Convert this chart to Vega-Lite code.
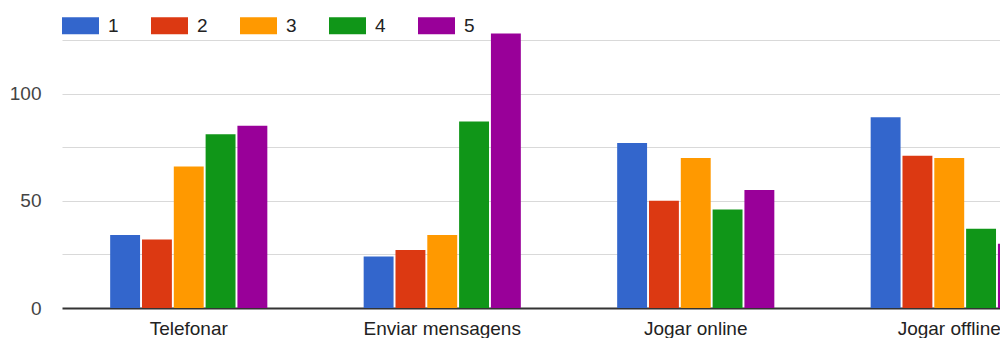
{
  "$schema": "https://vega.github.io/schema/vega-lite/v6.json",
  "autosize": {"type": "none"},
  "width": 938,
  "height": 268,
  "padding": {"left": 62, "top": 40, "right": 0, "bottom": 30},
  "background": "white",
  "config": {
    "view": {"stroke": null},
    "font": "Liberation Sans"
  },
  "data": {
    "values": [
      {"atividade": "Telefonar", "nota": "1", "n": 34},
      {"atividade": "Telefonar", "nota": "2", "n": 32},
      {"atividade": "Telefonar", "nota": "3", "n": 66},
      {"atividade": "Telefonar", "nota": "4", "n": 81},
      {"atividade": "Telefonar", "nota": "5", "n": 85},
      {"atividade": "Enviar mensagens", "nota": "1", "n": 24},
      {"atividade": "Enviar mensagens", "nota": "2", "n": 27},
      {"atividade": "Enviar mensagens", "nota": "3", "n": 34},
      {"atividade": "Enviar mensagens", "nota": "4", "n": 87},
      {"atividade": "Enviar mensagens", "nota": "5", "n": 128},
      {"atividade": "Jogar online", "nota": "1", "n": 77},
      {"atividade": "Jogar online", "nota": "2", "n": 50},
      {"atividade": "Jogar online", "nota": "3", "n": 70},
      {"atividade": "Jogar online", "nota": "4", "n": 46},
      {"atividade": "Jogar online", "nota": "5", "n": 55},
      {"atividade": "Jogar offline", "nota": "1", "n": 89},
      {"atividade": "Jogar offline", "nota": "2", "n": 71},
      {"atividade": "Jogar offline", "nota": "3", "n": 70},
      {"atividade": "Jogar offline", "nota": "4", "n": 37},
      {"atividade": "Jogar offline", "nota": "5", "n": 30}
    ]
  },
  "mark": {"type": "bar"},
  "encoding": {
    "x": {
      "field": "atividade",
      "type": "nominal",
      "sort": ["Telefonar", "Enviar mensagens", "Jogar online", "Jogar offline"],
      "scale": {"range": [0, 1014], "paddingInner": 0.38, "paddingOuter": 0.19},
      "axis": {
        "title": null,
        "labelAngle": 0,
        "domain": false,
        "ticks": false,
        "tickSize": 0,
        "labelPadding": 11,
        "labelFontSize": 19,
        "labelColor": "#222222",
        "labelFont": "Liberation Sans",
        "labelOverlap": false
      }
    },
    "xOffset": {
      "field": "nota",
      "type": "nominal",
      "sort": ["1", "2", "3", "4", "5"],
      "scale": {"paddingInner": 0.06, "paddingOuter": 0}
    },
    "y": {
      "field": "n",
      "type": "quantitative",
      "scale": {"domain": [0, 125], "nice": false},
      "axis": {
        "title": null,
        "domain": false,
        "ticks": false,
        "tickSize": 0,
        "values": [0, 25, 50, 75, 100, 125],
        "labelExpr": "(datum.value % 50 === 0 && datum.value <= 100) ? datum.label : ''",
        "labelPadding": 21,
        "labelFontSize": 19,
        "labelColor": "#444444",
        "labelFont": "Liberation Sans",
        "gridColor": {"condition": {"test": "datum.value === 0", "value": "#333333"}, "value": "#d9d9d9"},
        "gridWidth": {"condition": {"test": "datum.value === 0", "value": 2}, "value": 1}
      }
    },
    "color": {
      "field": "nota",
      "type": "nominal",
      "sort": ["1", "2", "3", "4", "5"],
      "scale": {"domain": ["1", "2", "3", "4", "5"], "range": ["#3366cc", "#dc3912", "#ff9900", "#109618", "#990099"]},
      "legend": {
        "title": null,
        "orient": "none",
        "legendX": 0,
        "legendY": -33,
        "direction": "horizontal",
        "columns": 5,
        "padding": 0,
        "symbolType": "M-1,-0.46H1V0.46H-1Z",
        "symbolSize": 1369,
        "symbolStrokeWidth": 0,
        "symbolOpacity": 1,
        "labelOffset": 9,
        "columnPadding": 32,
        "labelFontSize": 19,
        "labelColor": "#222222",
        "labelFont": "Liberation Sans"
      }
    }
  }
}
